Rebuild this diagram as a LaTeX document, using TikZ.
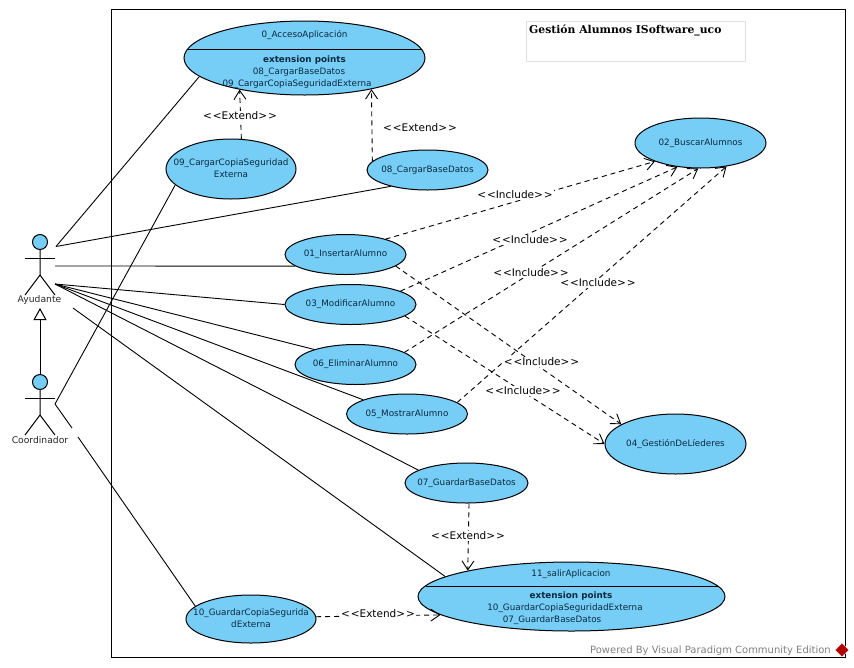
\documentclass[tikz,border=0pt]{standalone}
\usepackage{fontspec}
\setmainfont{DejaVu Sans}
\newfontfamily\titlefont{DejaVu Serif}
\usetikzlibrary{arrows.meta,shapes.geometric}
\definecolor{ucfill}{HTML}{76CEF6}
\definecolor{uctext}{HTML}{0B2A40}
\newcommand{\uctxt}[1]{\makebox[0pt]{\raisebox{-1pt}{\begin{tabular}{@{}c@{}}#1\end{tabular}}}}
\newcommand{\ext}{<\kern1pt<Extend>\kern1pt>}
\newcommand{\inc}{<\kern1pt<Include>\kern1pt>}
\tikzset{
    usecase/.style={draw=black, fill=ucfill, ellipse, line width=1pt, inner sep=0pt, text=uctext,
        font=\fontsize{8.8}{12}\selectfont},
    uctext/.style={text=uctext, inner sep=0pt, yshift=-1pt, font=\fontsize{8.8}{12}\selectfont},
    assoc/.style={line width=0.9pt},
    depend/.style={line width=0.9pt, dash pattern=on 5pt off 4pt, -{Straight Barb[length=9pt,width=12pt]}},
    stereo/.style={fill=white, inner sep=1pt, yshift=-1pt, font=\fontsize{10.5}{12}\selectfont},
    actorname/.style={inner sep=0pt, text=black!85, font=\fontsize{9.2}{12}\selectfont},
    head/.style={draw=black, fill=ucfill, circle, line width=1pt, inner sep=0pt, minimum size=15pt}
}
\begin{document}
\begin{tikzpicture}[x=1pt,y=-1pt]
    \useasboundingbox (0,0) rectangle (854,667);
    % Draw system frame and title
    \draw[line width=1pt] (111,9) rectangle (845,657);
    \draw[color=black!12, line width=1pt] (526,21) rectangle (745,61);
    \node (title) [anchor=west, inner sep=0pt, font=\titlefont\bfseries\fontsize{10.8}{12}\selectfont] at (529,30.5) {Gestión Alumnos ISoftware\_uco};
    % Draw actors
    \node (ayudante_head) [head] at (40,242) {};
    \node (coordinador_head) [head] at (40,382) {};
    \foreach \y/\who in {242/ayudante, 382/coordinador} {
        \draw[line width=1pt] (\who_head) -- (40,\y+33) -- (25,\y+53);
        \draw[line width=1pt] (40,\y+33) -- (55,\y+53);
        \draw[line width=1pt] (25,\y+16) -- (55,\y+16);
    }
    \node (ayudante) [actorname] at (39.5,300) {Ayudante};
    \node (coordinador) [actorname] at (40,440) {Coordinador};
    \coordinate (ayudante_tip) at (40,308);
    \draw[line width=1pt, -{Triangle[open,fill=white,length=12pt,width=13pt]}] (coordinador_head) -- (ayudante_tip);
    % Free ends of the actor lines
    \coordinate (ayu_a) at (56,246.5);
    \coordinate (ayu_b) at (55,266);
    \coordinate (ayu_c) at (55,284);
    \coordinate (ayu_d) at (73,308);
    \coordinate (coord_a) at (55,404);
    \coordinate (coord_b) at (72,428);
    \coordinate (coord_c) at (78,437);
    % Draw use cases
    \node (acceso) [usecase, minimum width=241pt, minimum height=74pt] at (304.5,58) {};
    \node (copia) [usecase, minimum width=130pt, minimum height=60pt] at (231,169) {\uctxt{09\_CargarCopiaSeguridad\\Externa}};
    \node (cargar) [usecase, minimum width=121pt, minimum height=40pt] at (427.5,170) {\uctxt{08\_CargarBaseDatos}};
    \node (buscar) [usecase, minimum width=131pt, minimum height=50pt] at (700.5,143) {\uctxt{02\_BuscarAlumnos}};
    \node (insertar) [usecase, minimum width=121pt, minimum height=40pt] at (345.5,254.5) {\uctxt{01\_InsertarAlumno}};
    \node (modificar) [usecase, minimum width=131pt, minimum height=40pt] at (350.5,304.5) {\uctxt{03\_ModificarAlumno}};
    \node (eliminar) [usecase, minimum width=121pt, minimum height=40pt] at (355.5,364.5) {\uctxt{06\_EliminarAlumno}};
    \node (mostrar) [usecase, minimum width=121pt, minimum height=40pt] at (407,414) {\uctxt{05\_MostrarAlumno}};
    \node (lideres) [usecase, minimum width=141pt, minimum height=60pt] at (675.5,444) {\uctxt{04\_GestiónDeLíederes}};
    \node (guardar) [usecase, minimum width=123pt, minimum height=40pt] at (466.5,483) {\uctxt{07\_GuardarBaseDatos}};
    \node (salir) [usecase, minimum width=307pt, minimum height=69pt] at (571.5,596.5) {};
    \node (externa) [usecase, minimum width=130pt, minimum height=48pt] at (251,619) {\uctxt{10\_GuardarCopiaSegurida\\dExterna}};
    % Extension compartments
    \draw[line width=1pt] ([shift={(-117.3,-8.5)}]acceso.center) -- ([shift={(117.3,-8.5)}]acceso.center);
    \node (acceso_name) [uctext] at (304.5,34) {0\_AccesoAplicación};
    \node (acceso_ext) [uctext, font=\fontsize{8.8}{12}\selectfont\bfseries] at (304.5,59) {extension points};
    \node (acceso_p1) [uctext] at (299,71) {08\_CargarBaseDatos};
    \node (acceso_p2) [uctext] at (297,83) {09\_CargarCopiaSeguridadExterna};
    \draw[line width=1pt] ([shift={(-146,-10.5)}]salir.center) -- ([shift={(146,-10.5)}]salir.center);
    \node (salir_name) [uctext] at (571,573) {11\_salirAplicacion};
    \node (salir_ext) [uctext, font=\fontsize{8.8}{12}\selectfont\bfseries] at (571,595) {extension points};
    \node (salir_p1) [uctext] at (565,607) {10\_GuardarCopiaSeguridadExterna};
    \node (salir_p2) [uctext] at (552,619) {07\_GuardarBaseDatos};
    % Draw associations
    \draw[assoc] (ayu_a) -- (acceso.190.6);
    \draw[assoc] (ayu_a) -- (cargar.204.4);
    \draw[assoc] (ayu_b) -- (insertar.193.5);
    \draw[assoc] (ayu_c) -- (modificar.180);
    \draw[assoc] (ayu_c) -- (eliminar.160);
    \draw[assoc] (ayu_c) -- (mostrar.162.4);
    \draw[assoc] (ayu_c) -- (guardar.165);
    \draw[assoc] (ayu_d) -- (salir.171.9);
    \draw[assoc] (coord_a) -- (copia.196.9);
    \draw[assoc] (coord_a) -- (coord_b);
    \draw[assoc] (coord_c) -- (externa.167.7);
    % Draw dependencies
    \draw[depend] (copia.71.3) -- (acceso.206.3);
    \draw[depend] (cargar.171.8) -- (acceso.335.6);
    \draw[depend] (insertar.21.6) -- (buscar.202.5);
    \draw[depend] (modificar.15.8) -- (buscar.226);
    \draw[depend] (eliminar.14.7) -- (buscar.265);
    \draw[depend] (mostrar.13.2) -- (buscar.318.5);
    \draw[depend] (insertar.347) -- (lideres.160.4);
    \draw[depend] (modificar.348.3) -- (lideres.180);
    \draw[depend] (guardar.277) -- (salir.166);
    \draw[depend] (externa.2) -- (salir.188.6);
    % Stereotype labels
    \node (ext_a) [stereo] at (240,115) {\ext};
    \node (ext_b) [stereo] at (420,127) {\ext};
    \node (inc_a) [stereo] at (515,194) {\inc};
    \node (inc_b) [stereo] at (530,239) {\inc};
    \node (inc_c) [stereo] at (531,272) {\inc};
    \node (inc_d) [stereo] at (598,282) {\inc};
    \node (inc_e) [stereo] at (541.5,361) {\inc};
    \node (inc_f) [stereo] at (523,390) {\inc};
    \node (ext_c) [stereo] at (468,535) {\ext};
    \node (ext_d) [stereo] at (378,613) {\ext};
    % Footer
    \node (footer) [anchor=east, inner sep=0pt, text=black!50, font=\fontsize{10}{12}\selectfont] at (831,651) {Powered By Visual Paradigm Community Edition};
    \node (logo) [diamond, fill=red!70!black, draw=white, inner sep=0pt, minimum size=14pt] at (842,650) {};
\end{tikzpicture}
\end{document}
